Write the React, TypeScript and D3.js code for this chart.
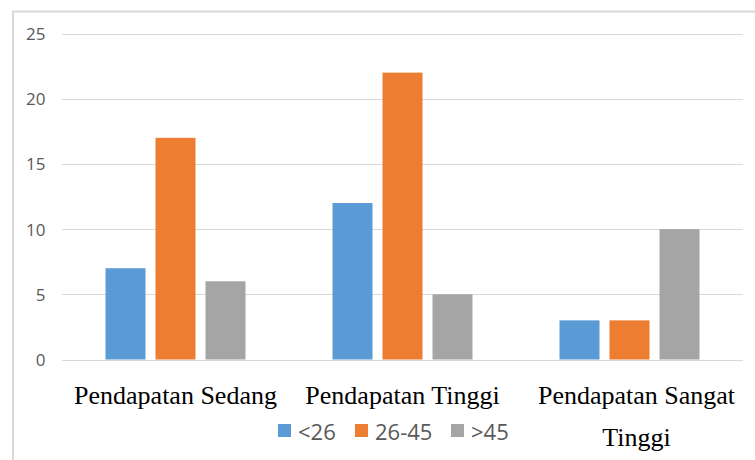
import React from "react";
import * as d3 from "d3";

const categories: string[][] = [
  ["Pendapatan Sedang"],
  ["Pendapatan Tinggi"],
  ["Pendapatan Sangat", "Tinggi"],
];
const categoryKeys = ["sedang", "tinggi", "sangat"];
const seriesNames = ["<26", "26-45", ">45"];
const seriesColors = ["#5B9BD5", "#ED7D31", "#A5A5A5"];
const valuesUnder26 = [7, 12, 3];
const values26to45 = [17, 22, 3];
const valuesOver45 = [6, 5, 10];
const seriesValues = [valuesUnder26, values26to45, valuesOver45];
const yTicks = [0, 5, 10, 15, 20, 25];

const W = 755;
const H = 460;
const plotLeft = 62;
const plotRight = 743;
const plotTop = 33.5;
const plotBottom = 359.5;

export default function App() {
  const x0 = d3.scaleBand<string>().domain(categoryKeys).range([plotLeft, plotRight]).padding(0);
  const x1 = d3.scaleBand<string>().domain(seriesNames).range([-70, 70]).paddingInner(0.2).paddingOuter(0);
  const y = d3.scaleLinear().domain([0, 25]).range([plotBottom, plotTop]);

  const legendWidths = [38, 57, 36];
  const legendGap = 19;
  const swatch = 13;
  const swatchGap = 7;
  let lx = 278;
  const legendItems = seriesNames.map((name, i) => {
    const item = { name, color: seriesColors[i], x: lx };
    lx += swatch + swatchGap + legendWidths[i] + legendGap;
    return item;
  });

  return (
    <svg
      width={W}
      height={H}
      style={{ position: "absolute", left: 0, top: 0, background: "#fff" }}
    >
      <rect x={0} y={0} width={W} height={H} fill="#fff" />
      <rect x={13} y={11.5} width={W + 20} height={H + 20} fill="none" stroke="#D9D9D9" strokeWidth={2} />
      {yTicks.map((t) => (
        <g key={t}>
          <line x1={plotLeft} x2={plotRight} y1={Math.round(y(t)) + 0.5} y2={Math.round(y(t)) + 0.5} stroke="#D9D9D9" strokeWidth={1.2} />
          <text
            x={45.5}
            y={y(t)}
            textAnchor="end"
            dominantBaseline="central"
            fontFamily="'Open Sans', sans-serif"
            fontSize={17}
            fill="#595959"
          >
            {t}
          </text>
        </g>
      ))}
      {categoryKeys.map((c, ci) => (
        <g key={c} transform={`translate(${(x0(c) ?? 0) + x0.bandwidth() / 2},0)`}>
          {seriesNames.map((s, si) => {
            const v = seriesValues[si][ci];
            return (
              <rect
                key={s}
                x={x1(s) ?? 0}
                y={y(v)}
                width={x1.bandwidth()}
                height={y(0) - y(v)}
                fill={seriesColors[si]}
              />
            );
          })}
        </g>
      ))}
      {categoryKeys.map((c, ci) => {
        const lines = categories[ci];
        const cx = (x0(c) ?? 0) + x0.bandwidth() / 2 + (lines.length > 1 ? 7 : 0);
        return (
          <text
            key={c}
            x={cx}
            y={404}
            textAnchor="middle"
            fontFamily="'Liberation Serif', 'Times New Roman', serif"
            fontSize={26}
            fill="#000"
          >
            {lines.map((ln, li) => (
              <tspan key={li} x={cx} dy={li === 0 ? 0 : 42}>
                {ln}
              </tspan>
            ))}
          </text>
        );
      })}
      {legendItems.map((it) => (
        <g key={it.name}>
          <rect x={it.x} y={424} width={swatch} height={swatch} fill={it.color} />
          <text
            x={it.x + swatch + swatchGap}
            y={430.5}
            dominantBaseline="central"
            fontFamily="'Open Sans', sans-serif"
            fontSize={22}
            fill="#595959"
          >
            {it.name}
          </text>
        </g>
      ))}
    </svg>
  );
}
